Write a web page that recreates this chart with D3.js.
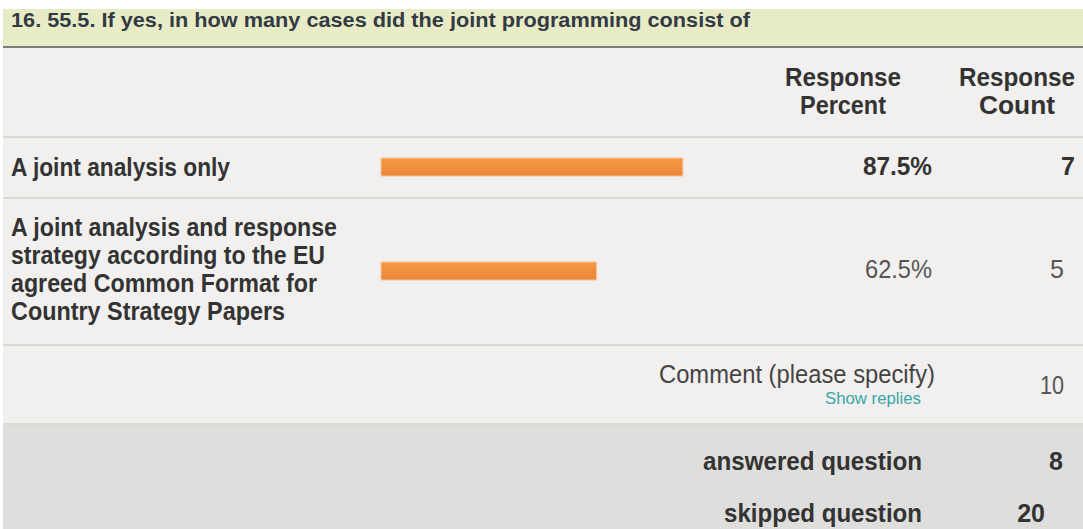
<!DOCTYPE html>
<html>
<head>
<meta charset="utf-8">
<script src="https://cdn.jsdelivr.net/npm/d3@7"></script>
<style>
  html, body { margin: 0; padding: 0; background: #ffffff; }
  svg { display: block; font-family: "Liberation Sans", Arial, Helvetica, sans-serif; }
</style>
</head>
<body>
<svg id="chart" width="1083" height="529"></svg>
<script>
// ---- data ----
const title = "16. 55.5. If yes, in how many cases did the joint programming consist of";
const headers = [["Response", "Percent"], ["Response", "Count"]];
const categories = [
  ["A joint analysis only"],
  ["A joint analysis and response", "strategy according to the EU", "agreed Common Format for", "Country Strategy Papers"]
];
const percents = [87.5, 62.5];
const counts = [7, 5];
const commentLabel = "Comment (please specify)";
const commentLink = "Show replies";
const commentCount = 10;
const summaryLabels = ["answered question", "skipped question"];
const summaryValues = [8, 20];

// ---- layout ----
const svg = d3.select("#chart");
const W = 1083, H = 529;
const left = 3;
const FS = 25;

const defs = svg.append("defs");
const grad = defs.append("linearGradient").attr("id", "barGrad")
  .attr("x1", 0).attr("y1", 0).attr("x2", 0).attr("y2", 1);
grad.append("stop").attr("offset", "0%").attr("stop-color", "#f69842");
grad.append("stop").attr("offset", "100%").attr("stop-color", "#e8873a");

// backgrounds
svg.append("rect").attr("x", 0).attr("y", 0).attr("width", W).attr("height", H).attr("fill", "#ffffff");
svg.append("rect").attr("x", left).attr("y", 9).attr("width", W - left).attr("height", 38).attr("fill", "#e8ecc6");
svg.append("rect").attr("x", left).attr("y", 47).attr("width", W - left).attr("height", 377).attr("fill", "#f1f0ee");
svg.append("rect").attr("x", left).attr("y", 424).attr("width", W - left).attr("height", H - 424).attr("fill", "#dededc");
svg.append("rect").attr("x", left).attr("y", 46).attr("width", W - left).attr("height", 2).attr("fill", "#7d7d7d");

// row separators
const seps = [137, 198, 345, 424];
svg.selectAll("rect.sep").data(seps).enter().append("rect")
  .attr("class", "sep").attr("x", left).attr("width", W - left)
  .attr("y", d => d - 1).attr("height", 2).attr("fill", "#dad9d6");

function fit(sel, w) {
  sel.each(function () {
    const len = this.getComputedTextLength();
    if (Math.abs(len - w) > 1) {
      d3.select(this).attr("textLength", w).attr("lengthAdjust", "spacingAndGlyphs");
    }
  });
}

// title
svg.append("text").attr("x", 11).attr("y", 27)
  .attr("font-size", 20).attr("font-weight", "bold").attr("fill", "#333a44")
  .text(title).call(fit, 739);

// headers
const headerX = [843, 1017];
headers.forEach((lines, i) => {
  lines.forEach((ln, j) => {
    svg.append("text").attr("x", headerX[i]).attr("y", 86 + j * 28)
      .attr("text-anchor", "middle").attr("font-size", FS).attr("font-weight", "bold")
      .attr("fill", "#333333").text(ln).call(fit, j === 0 ? 116 : (i === 0 ? 86 : 76));
  });
});

// rows
const x = d3.scaleLinear().domain([0, 100]).range([381, 726]);
const rowCenter = [167, 271];
const rowBaselines = [[176], [236, 264, 292, 320]];
const labelWidths = [[219], [326, 314, 306, 274]];

categories.forEach((lines, i) => {
  lines.forEach((ln, j) => {
    svg.append("text").attr("x", 11).attr("y", rowBaselines[i][j])
      .attr("font-size", FS).attr("font-weight", "bold").attr("fill", "#333333")
      .text(ln).call(fit, labelWidths[i][j]);
  });
});

const barH = 18;
svg.selectAll("rect.bar").data(percents).enter().append("rect")
  .attr("class", "bar")
  .attr("x", x(0)).attr("y", (d, i) => rowCenter[i] - barH / 2)
  .attr("width", d => x(d) - x(0)).attr("height", barH)
  .attr("fill", "url(#barGrad)").attr("stroke", "#f7c49a").attr("stroke-width", 1);

const maxCount = d3.max(counts);
svg.selectAll("text.pct").data(percents).enter().append("text")
  .attr("class", "pct").attr("x", 932).attr("y", (d, i) => [175, 278][i])
  .attr("text-anchor", "end").attr("font-size", FS)
  .attr("font-weight", (d, i) => counts[i] === maxCount ? "bold" : "normal")
  .attr("fill", (d, i) => counts[i] === maxCount ? "#333333" : "#555555")
  .text(d => d.toFixed(1) + "%")
  .each(function (d, i) { d3.select(this).call(fit, i === 0 ? 69 : 67); });

svg.selectAll("text.cnt").data(counts).enter().append("text")
  .attr("class", "cnt").attr("x", (d) => d === maxCount ? 1075 : 1064)
  .attr("y", (d, i) => [175, 278][i])
  .attr("text-anchor", "end").attr("font-size", FS)
  .attr("font-weight", d => d === maxCount ? "bold" : "normal")
  .attr("fill", d => d === maxCount ? "#333333" : "#555555")
  .text(d => d);

// comment row
svg.append("text").attr("x", 935).attr("y", 383).attr("text-anchor", "end")
  .attr("font-size", FS).attr("fill", "#444444").text(commentLabel).call(fit, 276);
svg.append("text").attr("x", 921).attr("y", 404).attr("text-anchor", "end")
  .attr("font-size", 16).attr("fill", "#39a6a8").text(commentLink).call(fit, 96);
svg.append("text").attr("x", 1064).attr("y", 394).attr("text-anchor", "end")
  .attr("font-size", FS).attr("fill", "#555555").text(commentCount).call(fit, 24);

// summary
const sumY = [470, 522];
svg.selectAll("text.sl").data(summaryLabels).enter().append("text")
  .attr("class", "sl").attr("x", 922).attr("y", (d, i) => sumY[i])
  .attr("text-anchor", "end").attr("font-size", FS).attr("font-weight", "bold")
  .attr("fill", "#333333").text(d => d)
  .each(function (d, i) { d3.select(this).call(fit, i === 0 ? 219 : 198); });
svg.selectAll("text.sv").data(summaryValues).enter().append("text")
  .attr("class", "sv").attr("x", (d, i) => [1063, 1045][i]).attr("y", (d, i) => sumY[i])
  .attr("text-anchor", "end").attr("font-size", FS).attr("font-weight", "bold")
  .attr("fill", "#333333").text(d => d);
</script>
</body>
</html>
